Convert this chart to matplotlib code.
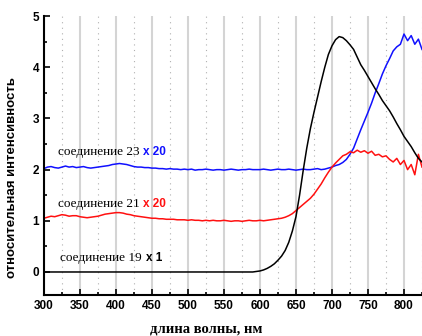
import numpy as np
import matplotlib.pyplot as plt
from matplotlib.ticker import MultipleLocator

# wavelength grids, nm
wl = list(range(300, 826, 5))
wl_19 = [300, 590] + list(range(600, 826, 5))

# compound 23 x 20 (blue)
int_23 = [2.02, 2.05, 2.06, 2.04, 2.03, 2.05, 2.07, 2.05, 2.06, 2.04,
          2.05, 2.06, 2.04, 2.03, 2.04, 2.05, 2.06, 2.07, 2.08, 2.10,
          2.11, 2.12, 2.11, 2.10, 2.08, 2.06, 2.05, 2.05, 2.04, 2.04,
          2.03, 2.03, 2.02, 2.02, 2.01, 2.02, 2.01, 2.01, 2.00, 2.01,
          2.00, 2.01, 1.99, 2.00, 2.00, 2.01, 2.00, 1.99, 2.00, 2.00,
          1.99, 2.00, 2.01, 2.00, 1.99, 2.00, 2.00, 2.01, 2.00, 2.00,
          2.00, 2.01, 2.00, 1.99, 2.00, 2.01, 2.00, 2.00, 2.01, 2.00,
          1.99, 2.00, 2.01, 2.00, 2.00, 2.01, 2.02, 2.00, 2.01, 2.03,
          2.05, 2.08, 2.10, 2.14, 2.20, 2.30, 2.42, 2.60, 2.78, 2.95,
          3.12, 3.30, 3.50, 3.68, 3.87, 4.03, 4.17, 4.32, 4.40, 4.45,
          4.65, 4.52, 4.62, 4.45, 4.55, 4.35]

# compound 21 x 20 (red)
int_21 = [1.05, 1.07, 1.09, 1.08, 1.10, 1.12, 1.11, 1.09, 1.10, 1.10,
          1.08, 1.07, 1.06, 1.07, 1.08, 1.09, 1.11, 1.13, 1.14, 1.15,
          1.16, 1.16, 1.15, 1.13, 1.12, 1.10, 1.09, 1.08, 1.07, 1.06,
          1.05, 1.05, 1.04, 1.04, 1.03, 1.03, 1.03, 1.02, 1.02, 1.02,
          1.01, 1.02, 1.01, 1.01, 1.00, 1.01, 1.00, 1.01, 1.00, 1.00,
          1.01, 1.00, 0.99, 1.00, 1.00, 0.99, 1.00, 1.01, 1.00, 1.00,
          1.01, 1.00, 1.01, 1.02, 1.03, 1.04,
          1.05, 1.07, 1.10, 1.14, 1.20, 1.26, 1.32, 1.38, 1.44, 1.52,
          1.62, 1.72, 1.84, 1.95,
          2.05, 2.13, 2.20, 2.27, 2.30, 2.35, 2.33, 2.38, 2.34, 2.37,
          2.32, 2.36, 2.28, 2.30, 2.25, 2.27, 2.20, 2.15, 2.22, 2.10,
          2.18, 2.00, 2.10, 1.90, 2.30, 2.05]

# compound 19 x 1 (black)
int_19 = [0.0, 0.0,
          0.02, 0.04, 0.07, 0.11, 0.16, 0.23, 0.31, 0.42, 0.58, 0.80,
          1.08, 1.50, 1.98, 2.42, 2.80, 3.12, 3.42, 3.72, 4.00, 4.25,
          4.42, 4.54, 4.60, 4.58, 4.52, 4.44, 4.35, 4.20, 4.05, 3.94,
          3.82, 3.70, 3.58, 3.47, 3.35, 3.25, 3.15, 3.03, 2.90, 2.78,
          2.65, 2.55, 2.45, 2.33, 2.22, 2.15]

plt.rcParams['font.family'] = ['Liberation Sans', 'DejaVu Sans']

fig = plt.figure(figsize=(4.22, 3.36), dpi=100)
ax = fig.add_axes([0.104, 0.122, 0.896, 0.83])

ax.plot(wl, int_23, color='#1010ff', lw=1.1)
ax.plot(wl, int_21, color='#ff1010', lw=1.1)
ax.plot(wl_19, int_19, color='black', lw=1.1)

ax.set_xlim(300, 825)
ax.set_ylim(-0.45, 5)
ax.xaxis.set_major_locator(MultipleLocator(50))
ax.xaxis.set_minor_locator(MultipleLocator(25))
ax.yaxis.set_major_locator(MultipleLocator(1))
ax.yaxis.set_minor_locator(MultipleLocator(0.5))

ax.grid(True, which='major', axis='x', color='#d4d4d4', lw=1.5)
ax.grid(True, which='minor', axis='x', color='#b0b0b0', lw=0.8, ls=(0, (1, 4)))
ax.set_axisbelow(True)

for s in ['top', 'right']:
    ax.spines[s].set_visible(False)
for s in ['left', 'bottom']:
    ax.spines[s].set_linewidth(1.5)

ax.tick_params(which='both', direction='in', width=1.2)
ax.tick_params(which='major', length=4, labelsize=8.5)
ax.tick_params(which='minor', length=2.5)
for lbl in ax.get_xticklabels() + ax.get_yticklabels():
    lbl.set_fontweight('bold')

ax.set_xlabel('длина волны, нм', family='Liberation Serif', fontweight='bold', fontsize=10.5)
ax.xaxis.set_label_coords(0.43, -0.1)
ax.set_ylabel('относительная интенсивность', fontweight='bold', fontsize=9.5)
ax.yaxis.set_label_coords(-0.068, 0.42)

# curve labels: serif name, then coloured multiplier right after it
labels = [('соединение 23', 'x 20', '#1010ff', 319, 2.35),
          ('соединение 21', 'x 20', '#ff1010', 319, 1.33),
          ('соединение 19', 'x 1', 'black', 322, 0.27)]
for name, mult, col, x0, y0 in labels:
    t = ax.text(x0, y0, name, family='Liberation Serif', fontsize=9.5, va='center')
    ax.annotate(mult, xy=(1, 0.5), xycoords=t, xytext=(3, 0), textcoords='offset points',
                va='center', ha='left', color=col, fontsize=8.5, fontweight='bold')

fig.savefig('out.png', dpi=100)
